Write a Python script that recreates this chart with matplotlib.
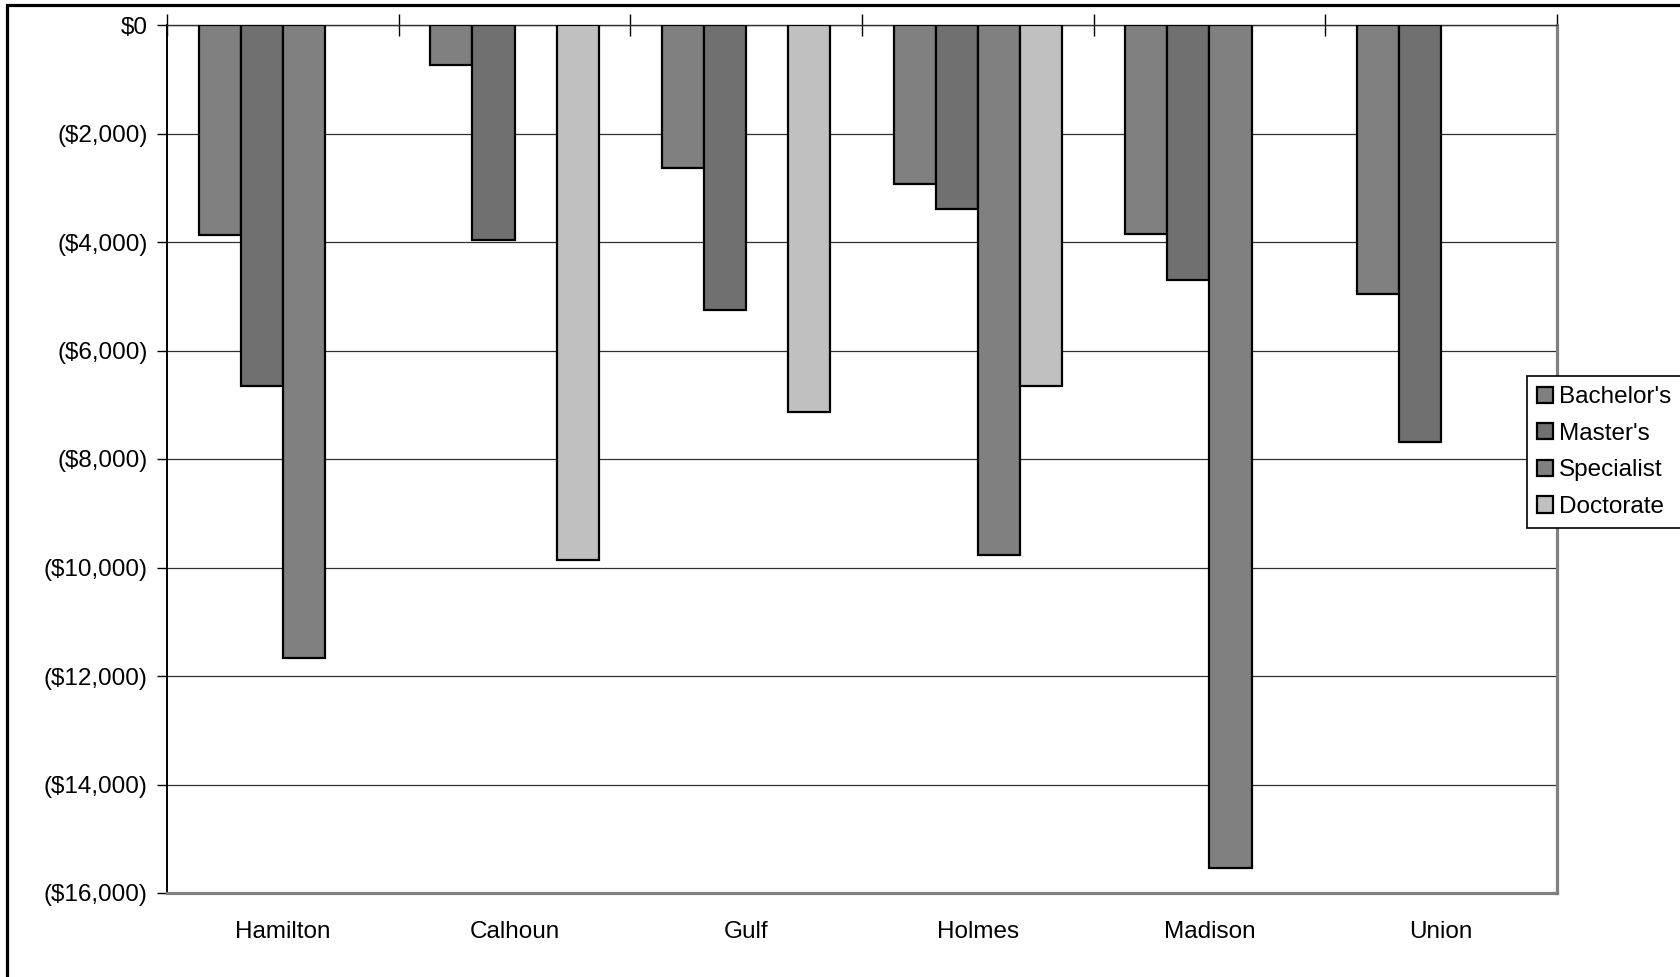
import numpy as np
import matplotlib
matplotlib.use("Agg")
import matplotlib.pyplot as plt
from matplotlib.patches import Patch, Rectangle
from matplotlib.ticker import FuncFormatter, FixedLocator

plt.rcParams['font.family'] = ['Liberation Sans', 'DejaVu Sans']

counties = ["Hamilton", "Calhoun", "Gulf", "Holmes", "Madison", "Union"]
series_names = ["Bachelor's", "Master's", "Specialist", "Doctorate"]
bachelors = [-3870, -730, -2640, -2940, -3850, -4950]
masters = [-6650, -3965, -5250, -3390, -4695, -7690]
specialist = [-11660, np.nan, np.nan, -9765, -15530, np.nan]
doctorate = [np.nan, -9860, -7140, -6650, np.nan, np.nan]
y_ticks = [0, -2000, -4000, -6000, -8000, -10000, -12000, -14000, -16000]

colors = ["#808080", "#707070", "#808080", "#c0c0c0"]
FS = 17.5

fig = plt.figure(figsize=(16.8, 9.77), dpi=100)
ax = fig.add_axes([167 / 1680, 84 / 977, 1390 / 1680, 868 / 977])

# outer chart frame
fig.patches.append(Rectangle((7 / 1680, -0.05), 1.1, 1 - 5 / 977 + 0.05,
                             transform=fig.transFigure, fill=False,
                             edgecolor="black", linewidth=2.3, zorder=0))

x = np.arange(len(counties))
w = 1 / 5.5
all_series = [bachelors, masters, specialist, doctorate]
for j, (vals, col) in enumerate(zip(all_series, colors)):
    vals = np.asarray(vals, dtype=float)
    ok = ~np.isnan(vals)
    ax.bar(x[ok] + (j - 1.5) * w, vals[ok], width=w, align="center",
           color=col, edgecolor="black", linewidth=1.6, zorder=3)

ax.set_xlim(-0.5, len(counties) - 0.5)
ax.set_ylim(y_ticks[-1], y_ticks[0])
ax.set_yticks(y_ticks)


def money(v, pos):
    if v == 0:
        return "$0"
    s = f"${abs(v):,.0f}"
    return f"({s})" if v < 0 else s


ax.yaxis.set_major_formatter(FuncFormatter(money))
ax.grid(axis="y", color="#303030", linewidth=0.9, zorder=1)
ax.set_axisbelow(True)

ax.set_xticks(x)
ax.set_xticklabels(counties)
ax.xaxis.set_minor_locator(FixedLocator(np.arange(-0.5, len(counties), 1.0)))
ax.tick_params(axis="x", which="major", length=0, pad=20, labelsize=FS)
ax.tick_params(axis="x", which="minor", bottom=False, top=True,
               direction="inout", length=16, width=1.0, color="black")
ax.tick_params(axis="y", which="major", direction="out", length=7,
               width=1.0, pad=7, labelsize=FS, colors="black")

ax.spines["left"].set_color("black")
ax.spines["left"].set_linewidth(1.4)
ax.spines["top"].set_color("#303030")
ax.spines["top"].set_linewidth(1.0)
for s in ("bottom", "right"):
    ax.spines[s].set_color("#808080")
    ax.spines[s].set_linewidth(2.3)

handles = [Patch(facecolor=c, edgecolor="black", linewidth=1.6) for c in colors]
leg = fig.legend(handles, series_names, loc="upper left",
                 bbox_to_anchor=(1527 / 1680, 1 - 376 / 977),
                 fontsize=FS, frameon=True, fancybox=False, framealpha=1,
                 edgecolor="black", handlelength=0.65, handleheight=0.65,
                 handletextpad=0.25, labelspacing=0.6, borderpad=0.42,
                 borderaxespad=0)
leg.get_frame().set_linewidth(1.2)

fig.savefig("out.png", dpi=100)
